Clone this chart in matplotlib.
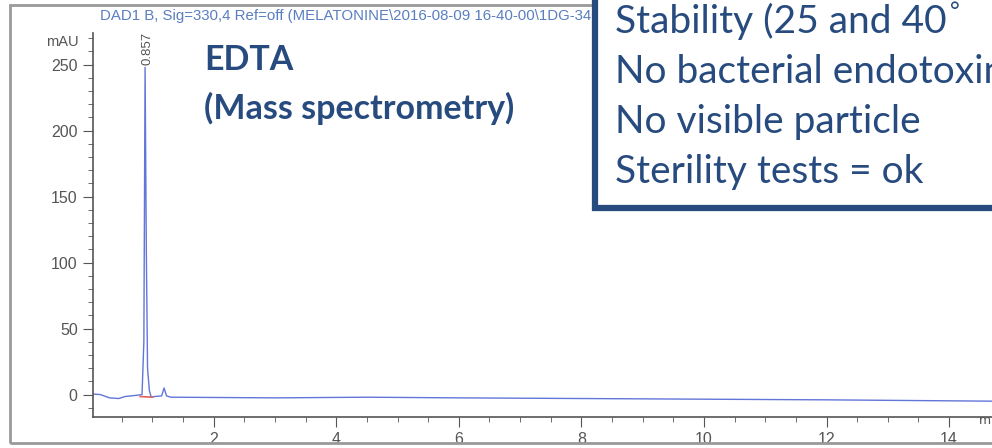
import matplotlib
matplotlib.use("Agg")
import matplotlib.pyplot as plt
from matplotlib.patches import Rectangle
from matplotlib.ticker import MultipleLocator

# chromatogram trace (time in min, signal in mAU)
time_min = [0.0, 0.15, 0.3, 0.45, 0.55, 0.65, 0.75, 0.83, 0.86, 0.88,
            0.90, 0.92, 0.95, 0.98, 1.03, 1.15, 1.19, 1.23, 1.3, 3.0,
            4.5, 6.0, 8.0, 10.0, 12.0, 14.7]
signal_mau = [0.5, 0.0, -2.5, -3.0, -1.5, -1.0, -0.5, 0.0, 40.0, 248.0,
              110.0, 20.0, 3.0, -2.0, -1.5, -1.0, 5.0, -1.0, -2.0, -2.5,
              -2.0, -2.5, -3.0, -3.5, -4.0, -5.0]
# integration baseline under the peak
base_t = [0.80, 1.0]
base_y = [-1.5, -2.0]
peak_time = 0.88
peak_label = "0.857"

header = "DAD1 B, Sig=330,4 Ref=off (MELATONINE\\2016-08-09 16-40-00\\1DG-340"
box_lines = ["Stability (25 and 40", "No bacterial endotoxin",
             "No visible particle", "Sterility tests = ok"]

navy = "#274b7e"
gray = "#555555"

fig = plt.figure(figsize=(9.92, 4.48), dpi=100)
ax = fig.add_axes([93 / 992, 31 / 448, 1 - 93 / 992, 384 / 448])

ax.plot(time_min, signal_mau, color="#6275d8", lw=1.0)
ax.plot(base_t, base_y, color="#e06060", lw=1.2)
ax.text(peak_time + 0.04, 250, peak_label, rotation=90, ha="center",
        va="bottom", fontsize=9.5, color=gray, family="Liberation Sans")

ax.set_xlim(0.03, 14.7)
ax.set_ylim(-17, 274)
ax.xaxis.set_major_locator(MultipleLocator(2))
ax.xaxis.set_minor_locator(MultipleLocator(0.5))
ax.yaxis.set_major_locator(MultipleLocator(50))
ax.yaxis.set_minor_locator(MultipleLocator(10))
ax.set_xticks([2, 4, 6, 8, 10, 12, 14])
for s in ["top", "right"]:
    ax.spines[s].set_visible(False)
for s in ["left", "bottom"]:
    ax.spines[s].set_color(gray)
    ax.spines[s].set_linewidth(1.2)
ax.tick_params(which="major", length=7, color=gray, labelcolor=gray,
               labelsize=11.5, pad=4)
ax.tick_params(which="minor", length=3.5, color=gray)
for lab in ax.get_xticklabels() + ax.get_yticklabels():
    lab.set_family("Liberation Sans")
ax.text(-0.2, 267, "mAU", ha="right", va="center", fontsize=10.5, color=gray,
        family="Liberation Sans")
ax.text(14.48, -15, "m", ha="left", va="top", fontsize=9, color=gray,
        clip_on=False)

# outer frame of the pasted chromatogram
fig.patches.append(Rectangle((10 / 992, 5 / 448), 1.1, 438 / 448,
                             transform=fig.transFigure, fill=False,
                             edgecolor="#999999", lw=2.0))

fig.text(100 / 992, 1 - 16 / 448, header, fontsize=10.8, color="#5a7ec0",
         va="center", ha="left", family="Liberation Sans")

fig.text(204 / 992, 1 - 60 / 448, "EDTA", fontsize=24.5, fontweight="bold",
         color=navy, va="center", family="Lato")
fig.text(204 / 992, 1 - 108 / 448, "(Mass spectrometry)", fontsize=24.5,
         fontweight="bold", color=navy, va="center", family="Lato")

# text box on top
fig.patches.append(Rectangle((595 / 992, 1 - 208 / 448), 0.6, 0.6,
                             transform=fig.transFigure, facecolor="white",
                             edgecolor=navy, lw=4.5, zorder=5))
for i, line in enumerate(box_lines):
    t = fig.text(615 / 992, 1 - (33 + 50 * i) / 448, line, fontsize=28,
                 color=navy, va="baseline", ha="left", family="Lato")
    t.set_zorder(6)
fig.text(950 / 992, 1 - 1 / 448, "°", fontsize=17, color=navy,
         va="top", ha="left", family="Lato", zorder=6)

fig.savefig("out.png", dpi=100)
